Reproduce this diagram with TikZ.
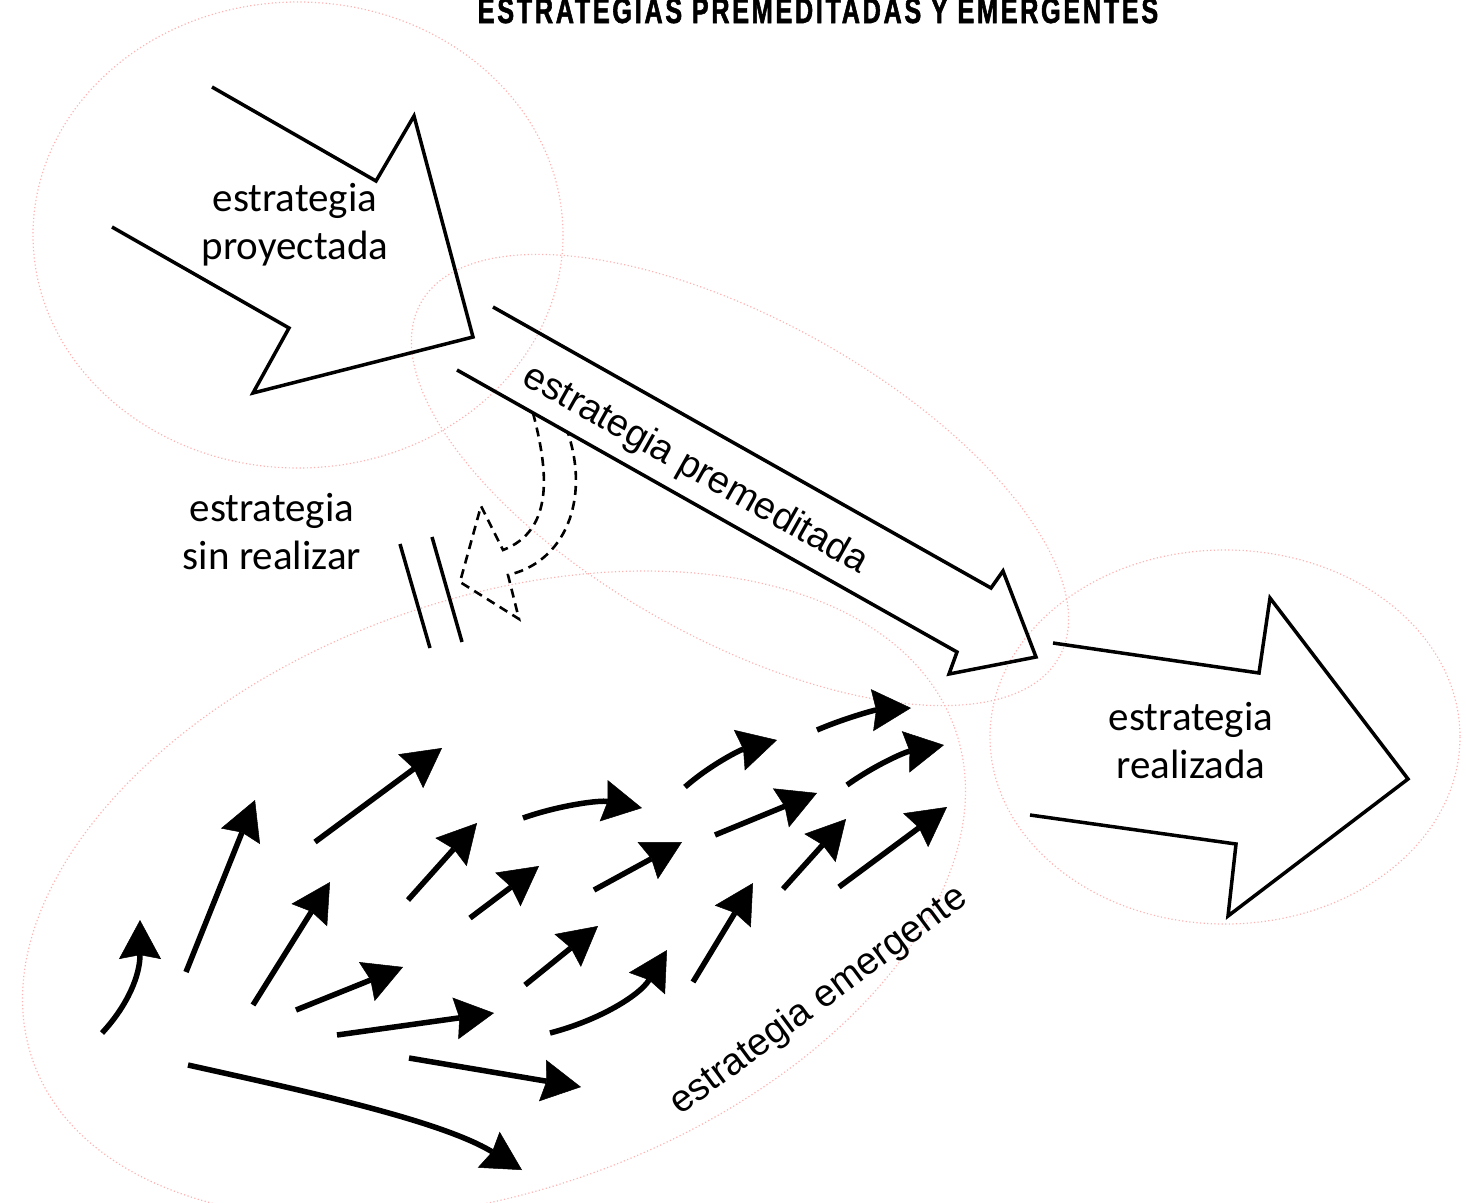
\documentclass[tikz,border=0pt]{standalone}
\usepackage{fontspec}
\setmainfont{Carlito}
\newfontfamily\helvfont{Liberation Sans}
\newfontfamily\titlefont{Liberation Sans}[FakeStretch=0.7,LetterSpace=7.5,FakeBold=1.5]
\usetikzlibrary{arrows.meta}

\begin{document}
\begin{tikzpicture}[x=1pt, y=-1pt,
  halo/.style={draw=red!30, line width=1.2pt, dash pattern=on 1.2pt off 2.4pt},
  outline/.style={line width=3.5pt, line join=miter},
  dasharrow/.style={line width=2.6pt, dash pattern=on 9pt off 6pt, line join=miter},
  flow/.style={line width=5.5pt, -{Stealth[length=39pt, width=42pt, inset=4pt, line width=0.5pt]}},
  lbl/.style={align=center, inner sep=0pt, font=\fontsize{41}{48}\selectfont},
  slant/.style={inner sep=0pt, font=\helvfont\fontsize{38}{38}\selectfont}]
\useasboundingbox (0,0) rectangle (1466,1202);

\draw[halo] (298,235) ellipse [x radius=265, y radius=233];
\draw[halo, rotate around={-29:(740,480)}] (740,480) ellipse [x radius=365, y radius=160];
\draw[halo, rotate around={20:(494,895)}] (494,895) ellipse [x radius=490, y radius=295];
\draw[halo] (1225,737) ellipse [x radius=235, y radius=187];

\node[font=\titlefont\bfseries\fontsize{36}{36}\selectfont, anchor=base, inner sep=0pt] (titulo) at (818,23) {ESTRATEGIAS PREMEDITADAS Y EMERGENTES};

\draw[outline] (212,87) -- (376,181) -- (414,116) -- (473,337) -- (253,393) -- (289,328) -- (112,227);
\node[lbl] (proyectada) at (295,225) {estrategia\\proyectada};

\draw[outline] (493,307) -- (991,588) -- (1003,571) -- (1036,657) -- (949,674) -- (957,652) -- (457,370);
\node[slant, rotate=-29.4] (premeditada) at (695,470) {estrategia premeditada};

\draw[dasharrow] (533,413) .. controls (548,470) and (555,530) .. (503,550) -- (481,506) -- (460,582) -- (519,619) -- (508,575) .. controls (565,562) and (590,500) .. (568,433);
\draw[outline] (400,544) -- (430,648);
\draw[outline] (432,537) -- (462,642);
\node[lbl] (sinrealizar) at (272,532) {estrategia\\sin realizar};

\draw[outline] (1053,643) -- (1259,673) -- (1270,598) -- (1408,779) -- (1228,916) -- (1236,844) -- (1030,815);
\node[lbl] (realizada) at (1191,741) {estrategia\\realizada};

\draw[flow] (102,1033) .. controls (128,1005) and (140,975) .. (140,920);
\draw[flow] (186,972) -- (255,800);
\draw[flow] (315,842) -- (442,748);
\draw[flow] (253,1005) -- (330,882);
\draw[flow] (296,1010) -- (403,967);
\draw[flow] (337,1035) -- (494,1013);
\draw[flow] (409,1058) -- (581,1087);
\draw[flow] (188,1065) .. controls (300,1090) and (440,1120) .. (522,1170);
\draw[flow] (408,900) -- (477,823);
\draw[flow] (470,918) -- (539,866);
\draw[flow] (523,818) .. controls (560,805) and (600,800) .. (642,808);
\draw[flow] (525,985) -- (598,926);
\draw[flow] (550,1033) .. controls (600,1020) and (640,995) .. (667,950);
\draw[flow] (594,890) -- (682,842);
\draw[flow] (685,787) .. controls (710,765) and (740,750) .. (777,740);
\draw[flow] (715,835) -- (817,793);
\draw[flow] (693,982) -- (753,883);
\draw[flow] (783,889) -- (846,819);
\draw[flow] (817,730) .. controls (845,718) and (875,710) .. (911,708);
\draw[flow] (847,785) .. controls (875,765) and (905,752) .. (944,745);
\draw[flow] (839,887) -- (947,807);
\node[slant, rotate=36.5] (emergente) at (819,1001) {estrategia emergente};

\end{tikzpicture}
\end{document}
